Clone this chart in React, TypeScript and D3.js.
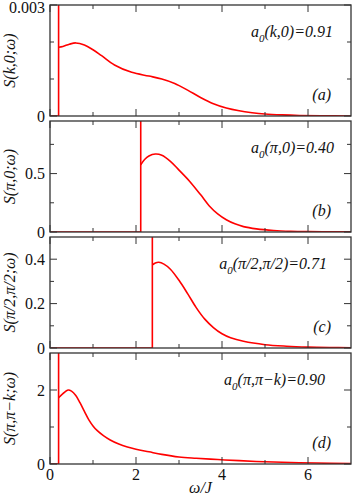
import { useEffect, useRef } from 'react'
import * as d3 from 'd3'

// spectral functions, one array pair per panel
const OMEGA_A = [0.2, 0.3, 0.45, 0.6, 0.8, 1.0, 1.2, 1.5, 1.9, 2.3, 2.6, 2.9, 3.2, 3.5, 3.8, 4.1, 4.4, 4.7, 5.0, 5.4, 5.8, 6.3, 7.0]
const S_A = [0.00186, 0.00188, 0.00194, 0.001975, 0.00192, 0.00179, 0.00163, 0.00138, 0.00118, 0.00108, 0.001, 0.00088, 0.0007, 0.0005, 0.00033, 0.000215, 0.00014, 0.00009, 0.000055, 0.00003, 0.000015, 0.000007, 0.000002]

const OMEGA_B = [2.11, 2.2, 2.3, 2.45, 2.6, 2.8, 3.0, 3.25, 3.5, 3.7, 3.9, 4.1, 4.3, 4.5, 4.8, 5.2, 5.6, 6.0, 6.5, 7.0]
const S_B = [0.575, 0.62, 0.65, 0.667, 0.657, 0.605, 0.53, 0.433, 0.32, 0.225, 0.155, 0.105, 0.07, 0.046, 0.027, 0.013, 0.006, 0.003, 0.0015, 0.001]

const OMEGA_C = [2.38, 2.45, 2.53, 2.65, 2.8, 3.0, 3.2, 3.4, 3.6, 3.8, 4.0, 4.2, 4.5, 5.0, 5.5, 6.0, 6.5, 7.0]
const S_C = [0.374, 0.383, 0.386, 0.378, 0.355, 0.305, 0.245, 0.182, 0.13, 0.092, 0.064, 0.046, 0.03, 0.015, 0.008, 0.004, 0.002, 0.001]

const OMEGA_D = [0.2, 0.3, 0.42, 0.5, 0.6, 0.7, 0.8, 0.9, 1.0, 1.1, 1.25, 1.4, 1.6, 1.8, 2.0, 2.3, 2.6, 3.0, 3.4, 3.9, 4.4, 5.0, 5.6, 6.2, 7.0]
const S_D = [1.79, 1.9, 2.0, 1.97, 1.85, 1.65, 1.42, 1.2, 1.03, 0.9, 0.76, 0.65, 0.54, 0.46, 0.4, 0.33, 0.26, 0.19, 0.155, 0.12, 0.09, 0.06, 0.04, 0.025, 0.01]

const Y_MAX = [0.003, 0.95, 0.5, 3]
const Y_MAJOR = [[0, 0.003], [0, 0.5], [0, 0.2, 0.4], [0, 2]]
const Y_MAJOR_LABELS = [['0', '0.003'], ['0', '0.5'], ['0', '0.2', '0.4'], ['0', '2']]
const Y_MINOR = [[0.001, 0.002], [0.25, 0.75], [0.1, 0.3], [1]]
const Y_TITLES = ['S(k,0;ω)', 'S(π,0;ω)', 'S(π/2,π/2;ω)', 'S(π,π−k;ω)']
const WEIGHTS = ['(k,0)=0.91', '(π,0)=0.40', '(π/2,π/2)=0.71', '(π,π−k)=0.90']
const WEIGHT_X = [333, 334, 327, 325]
const PANEL_TAGS = ['(a)', '(b)', '(c)', '(d)']

const X_MAJOR = [0, 2, 4, 6]
const X_MINOR = [1, 3, 5]

const W = 354
const H = 497
const SERIF = 'Liberation Serif'

export default function App() {
  const svgRef = useRef<SVGSVGElement>(null)

  useEffect(() => {
    const svg = d3.select(svgRef.current)
    svg.selectAll('*').remove()

    const left = 50
    const right = 351
    const panelH = 111
    const step = 116
    const top0 = 5
    const frame = '#333'

    const x = d3.scaleLinear().domain([0, 7]).range([left, right])

    const series = [
      [OMEGA_A, S_A],
      [OMEGA_B, S_B],
      [OMEGA_C, S_C],
      [OMEGA_D, S_D],
    ]

    series.forEach(([om, s], i) => {
      const top = top0 + i * step
      const bottom = top + panelH
      const y = d3.scaleLinear().domain([0, Y_MAX[i]]).range([bottom, top])
      const g = svg.append('g')

      const clipId = `clip${i}`
      svg.append('clipPath').attr('id', clipId)
        .append('rect').attr('x', left).attr('y', top).attr('width', right - left).attr('height', panelH)

      const plot = g.append('g').attr('clip-path', `url(#${clipId})`)
      const w0 = om[0]
      const base: [number, number][] = [[0, 0], [w0, 0], [w0, Y_MAX[i] * 1.2]]
      const line = d3.line<[number, number]>().x(d => x(d[0])).y(d => y(d[1]))
      plot.append('path')
        .attr('d', line(base))
        .attr('fill', 'none').attr('stroke', '#ff0000').attr('stroke-width', 1.6)

      const pts: [number, number][] = om.map((w, k) => [w, s[k]])
      plot.append('path')
        .attr('d', line.curve(d3.curveCatmullRom.alpha(0.5))(pts))
        .attr('fill', 'none').attr('stroke', '#ff0000').attr('stroke-width', 1.6)

      // ticks on all four sides, pointing inward
      const tk = g.append('g').attr('stroke', frame).attr('stroke-width', 1)
      X_MAJOR.concat(X_MINOR).forEach(v => {
        const len = X_MAJOR.includes(v) ? 7 : 4
        tk.append('line').attr('x1', x(v)).attr('x2', x(v)).attr('y1', bottom).attr('y2', bottom - len)
        tk.append('line').attr('x1', x(v)).attr('x2', x(v)).attr('y1', top).attr('y2', top + len)
      })
      Y_MAJOR[i].concat(Y_MINOR[i]).forEach(v => {
        const len = Y_MAJOR[i].includes(v) ? 7 : 4
        tk.append('line').attr('x1', left).attr('x2', left + len).attr('y1', y(v)).attr('y2', y(v))
        tk.append('line').attr('x1', right).attr('x2', right - len).attr('y1', y(v)).attr('y2', y(v))
      })

      g.append('rect')
        .attr('x', left).attr('y', top).attr('width', right - left).attr('height', panelH)
        .attr('fill', 'none').attr('stroke', frame).attr('stroke-width', 1.3)

      g.selectAll('.ylab')
        .data(Y_MAJOR[i])
        .join('text')
        .attr('x', left - 5)
        .attr('y', d => Math.max(y(d), 7))
        .attr('dy', '0.35em')
        .attr('text-anchor', 'end')
        .attr('font-family', SERIF)
        .attr('font-size', 16)
        .attr('fill', '#111')
        .text((d, k) => Y_MAJOR_LABELS[i][k])

      g.append('text')
        .attr('transform', `translate(15,${(top + bottom) / 2}) rotate(-90)`)
        .attr('text-anchor', 'middle')
        .attr('font-family', SERIF)
        .attr('font-style', 'italic')
        .attr('font-size', 16)
        .attr('fill', '#111')
        .text(Y_TITLES[i])

      const ann = g.append('text')
        .attr('x', WEIGHT_X[i])
        .attr('y', top + 32)
        .attr('text-anchor', 'end')
        .attr('font-family', SERIF)
        .attr('font-style', 'italic')
        .attr('font-size', 16)
        .attr('fill', '#111')
      ann.append('tspan').text('a')
      ann.append('tspan').attr('dy', 5).attr('font-size', 11).text('0')
      ann.append('tspan').attr('dy', -5).text(WEIGHTS[i])

      g.append('text')
        .attr('x', 331)
        .attr('y', bottom - 16)
        .attr('text-anchor', 'end')
        .attr('font-family', SERIF)
        .attr('font-style', 'italic')
        .attr('font-size', 16)
        .attr('fill', '#111')
        .text(PANEL_TAGS[i])

      if (i === series.length - 1) {
        g.selectAll('.xlab')
          .data(X_MAJOR)
          .join('text')
          .attr('x', d => x(d))
          .attr('y', bottom + 8)
          .attr('dy', '0.5em')
          .attr('text-anchor', 'middle')
          .attr('font-family', SERIF)
          .attr('font-size', 16)
          .attr('fill', '#111')
          .text(d => d)

        g.append('text')
          .attr('x', (left + right) / 2)
          .attr('y', bottom + 29)
          .attr('text-anchor', 'middle')
          .attr('font-family', SERIF)
          .attr('font-style', 'italic')
          .attr('font-size', 16)
          .attr('fill', '#111')
          .text('ω/J')
      }
    })
  }, [])

  return (
    <svg
      ref={svgRef}
      width={W}
      height={H}
      style={{ position: 'absolute', left: 0, top: 0, background: '#fff' }}
    />
  )
}
